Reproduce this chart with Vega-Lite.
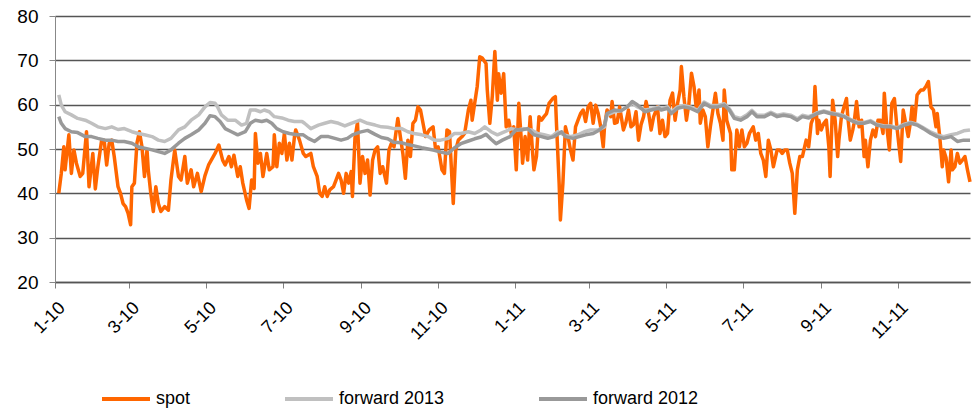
{
"$schema": "https://vega.github.io/schema/vega-lite/v6.json",
"width": 915, "height": 266,
"autosize": {"type": "none"},
"padding": {"left": 55, "top": 16, "right": 2, "bottom": 128},
"background": "white",
"config": {"view": {"stroke": null}, "font": "Liberation Sans"},
"datasets": {
"spot": [
{"d":"2010-01-04","v":40},{"d":"2010-01-06","v":44.5},{"d":"2010-01-08","v":50.5},{"d":"2010-01-09","v":45.3},{"d":"2010-01-12","v":53.2},{"d":"2010-01-14","v":44.5},{"d":"2010-01-16","v":49.8},{"d":"2010-01-18","v":46.8},{"d":"2010-01-21","v":43.8},{"d":"2010-01-23","v":44.5},{"d":"2010-01-26","v":53.9},{"d":"2010-01-28","v":41.5},{"d":"2010-01-31","v":49},
{"d":"2010-02-02","v":41},{"d":"2010-02-04","v":46},{"d":"2010-02-07","v":52},{"d":"2010-02-09","v":52},{"d":"2010-02-11","v":46.4},{"d":"2010-02-13","v":51.3},{"d":"2010-02-15","v":52},{"d":"2010-02-17","v":48.3},{"d":"2010-02-20","v":41.5},{"d":"2010-02-22","v":40},{"d":"2010-02-24","v":37.7},{"d":"2010-02-26","v":37},{"d":"2010-02-28","v":35.5},
{"d":"2010-03-02","v":32.9},{"d":"2010-03-03","v":41.5},{"d":"2010-03-05","v":42.3},{"d":"2010-03-07","v":51.3},{"d":"2010-03-09","v":53.9},{"d":"2010-03-11","v":50.5},{"d":"2010-03-13","v":43.8},{"d":"2010-03-15","v":49.8},{"d":"2010-03-16","v":45.3},{"d":"2010-03-18","v":40},{"d":"2010-03-20","v":35.9},{"d":"2010-03-22","v":41.5},{"d":"2010-03-24","v":37.7},{"d":"2010-03-26","v":35.9},{"d":"2010-03-29","v":37},
{"d":"2010-04-01","v":36.2},{"d":"2010-04-03","v":43},{"d":"2010-04-06","v":49.8},{"d":"2010-04-09","v":43.8},{"d":"2010-04-11","v":43},{"d":"2010-04-14","v":48.3},{"d":"2010-04-16","v":42.3},{"d":"2010-04-19","v":45.3},{"d":"2010-04-21","v":41.5},{"d":"2010-04-24","v":44.5},{"d":"2010-04-27","v":40.4},{"d":"2010-04-30","v":44},
{"d":"2010-05-03","v":46.5},{"d":"2010-05-05","v":47.5},{"d":"2010-05-08","v":49},{"d":"2010-05-11","v":50.9},{"d":"2010-05-14","v":47.5},{"d":"2010-05-16","v":46.4},{"d":"2010-05-19","v":48.3},{"d":"2010-05-21","v":46},{"d":"2010-05-23","v":48.6},{"d":"2010-05-26","v":43.8},{"d":"2010-05-28","v":46},{"d":"2010-05-30","v":42.3},
{"d":"2010-06-02","v":38.5},{"d":"2010-06-04","v":36.6},{"d":"2010-06-06","v":43},{"d":"2010-06-08","v":41.1},{"d":"2010-06-09","v":53.5},{"d":"2010-06-11","v":46.8},{"d":"2010-06-13","v":49},{"d":"2010-06-15","v":43.8},{"d":"2010-06-18","v":49},{"d":"2010-06-20","v":45.3},{"d":"2010-06-23","v":46},{"d":"2010-06-24","v":53.2},{"d":"2010-06-26","v":46},{"d":"2010-06-28","v":51.3},{"d":"2010-06-30","v":49},
{"d":"2010-07-02","v":53.5},{"d":"2010-07-04","v":47.5},{"d":"2010-07-06","v":51.3},{"d":"2010-07-08","v":47.5},{"d":"2010-07-10","v":52.8},{"d":"2010-07-11","v":54.3},{"d":"2010-07-14","v":52},{"d":"2010-07-17","v":49},{"d":"2010-07-19","v":48.3},{"d":"2010-07-23","v":49},{"d":"2010-07-25","v":46},{"d":"2010-07-28","v":43.8},{"d":"2010-07-30","v":40},
{"d":"2010-08-01","v":39.3},{"d":"2010-08-03","v":41.5},{"d":"2010-08-05","v":39.3},{"d":"2010-08-07","v":40.8},{"d":"2010-08-10","v":41.5},{"d":"2010-08-12","v":43},{"d":"2010-08-14","v":44.5},{"d":"2010-08-16","v":43},{"d":"2010-08-18","v":40},{"d":"2010-08-20","v":44.5},{"d":"2010-08-22","v":42.3},{"d":"2010-08-24","v":44.9},{"d":"2010-08-25","v":39.3},{"d":"2010-08-27","v":52.4},{"d":"2010-08-29","v":56},{"d":"2010-08-31","v":42.3},
{"d":"2010-09-02","v":48.3},{"d":"2010-09-04","v":44.5},{"d":"2010-09-06","v":47.5},{"d":"2010-09-08","v":39.6},{"d":"2010-09-10","v":47.5},{"d":"2010-09-12","v":49.8},{"d":"2010-09-14","v":50.5},{"d":"2010-09-16","v":44.5},{"d":"2010-09-18","v":46},{"d":"2010-09-21","v":42.3},{"d":"2010-09-23","v":49.8},{"d":"2010-09-25","v":51.3},{"d":"2010-09-27","v":50.5},{"d":"2010-09-30","v":56.9},
{"d":"2010-10-02","v":52.8},{"d":"2010-10-04","v":49},{"d":"2010-10-06","v":43.4},{"d":"2010-10-08","v":52},{"d":"2010-10-10","v":48.3},{"d":"2010-10-12","v":55.8},{"d":"2010-10-14","v":56.5},{"d":"2010-10-16","v":59.5},{"d":"2010-10-18","v":58.8},{"d":"2010-10-20","v":55.8},{"d":"2010-10-22","v":52.8},{"d":"2010-10-25","v":54.3},{"d":"2010-10-28","v":55},{"d":"2010-10-30","v":49.8},
{"d":"2010-11-01","v":50.5},{"d":"2010-11-04","v":45.3},{"d":"2010-11-06","v":44.5},{"d":"2010-11-08","v":54.3},{"d":"2010-11-10","v":53.9},{"d":"2010-11-12","v":43},{"d":"2010-11-13","v":37.7},{"d":"2010-11-15","v":49.8},{"d":"2010-11-17","v":52},{"d":"2010-11-20","v":52.8},{"d":"2010-11-22","v":53.5},{"d":"2010-11-25","v":58.8},{"d":"2010-11-27","v":61},{"d":"2010-11-28","v":56.5},{"d":"2010-11-30","v":60.3},
{"d":"2010-12-02","v":64.1},{"d":"2010-12-04","v":70.8},{"d":"2010-12-06","v":70.5},{"d":"2010-12-09","v":69.3},{"d":"2010-12-10","v":63.3},{"d":"2010-12-12","v":55.8},{"d":"2010-12-14","v":62},{"d":"2010-12-16","v":72},{"d":"2010-12-18","v":61},{"d":"2010-12-19","v":67},{"d":"2010-12-21","v":62.6},{"d":"2010-12-23","v":67},{"d":"2010-12-25","v":55},{"d":"2010-12-27","v":56.5},{"d":"2010-12-29","v":53.5},{"d":"2010-12-31","v":55},
{"d":"2011-01-02","v":45.3},{"d":"2011-01-04","v":60.3},{"d":"2011-01-06","v":52},{"d":"2011-01-07","v":46.8},{"d":"2011-01-09","v":52.8},{"d":"2011-01-11","v":47.5},{"d":"2011-01-13","v":57.3},{"d":"2011-01-15","v":49},{"d":"2011-01-16","v":45.3},{"d":"2011-01-18","v":48.3},{"d":"2011-01-20","v":57.3},{"d":"2011-01-22","v":56.5},{"d":"2011-01-24","v":57.3},{"d":"2011-01-26","v":58},{"d":"2011-01-28","v":60.3},{"d":"2011-01-31","v":61.4},
{"d":"2011-02-02","v":61.8},{"d":"2011-02-03","v":55},{"d":"2011-02-05","v":42.3},{"d":"2011-02-06","v":34},{"d":"2011-02-08","v":42.3},{"d":"2011-02-10","v":55},{"d":"2011-02-12","v":52.8},{"d":"2011-02-14","v":49.8},{"d":"2011-02-16","v":47.5},{"d":"2011-02-18","v":55},{"d":"2011-02-20","v":56.5},{"d":"2011-02-22","v":58},{"d":"2011-02-24","v":58.8},{"d":"2011-02-26","v":56.2},{"d":"2011-02-28","v":59.5},
{"d":"2011-03-02","v":60.3},{"d":"2011-03-04","v":55.8},{"d":"2011-03-06","v":59.9},{"d":"2011-03-08","v":58},{"d":"2011-03-10","v":55},{"d":"2011-03-12","v":50.5},{"d":"2011-03-13","v":55},{"d":"2011-03-15","v":58.8},{"d":"2011-03-18","v":57.3},{"d":"2011-03-19","v":60.7},{"d":"2011-03-21","v":55.8},{"d":"2011-03-23","v":56},{"d":"2011-03-25","v":59.5},{"d":"2011-03-28","v":54.3},{"d":"2011-03-30","v":56},
{"d":"2011-04-01","v":58.8},{"d":"2011-04-03","v":55},{"d":"2011-04-05","v":55.5},{"d":"2011-04-07","v":58.4},{"d":"2011-04-09","v":52},{"d":"2011-04-11","v":55.5},{"d":"2011-04-13","v":57.3},{"d":"2011-04-15","v":60.7},{"d":"2011-04-17","v":58},{"d":"2011-04-19","v":54.3},{"d":"2011-04-21","v":57.3},{"d":"2011-04-24","v":59.5},{"d":"2011-04-26","v":53.5},{"d":"2011-04-28","v":56.5},{"d":"2011-04-30","v":52.8},
{"d":"2011-05-02","v":53.5},{"d":"2011-05-04","v":61},{"d":"2011-05-06","v":62.6},{"d":"2011-05-08","v":56.5},{"d":"2011-05-10","v":60.3},{"d":"2011-05-12","v":63.3},{"d":"2011-05-13","v":68.6},{"d":"2011-05-15","v":61.8},{"d":"2011-05-17","v":56.5},{"d":"2011-05-19","v":60.3},{"d":"2011-05-21","v":67.1},{"d":"2011-05-23","v":64.1},{"d":"2011-05-25","v":58.8},{"d":"2011-05-27","v":63.3},{"d":"2011-05-28","v":55.8},{"d":"2011-05-30","v":58.8},
{"d":"2011-06-01","v":57.3},{"d":"2011-06-03","v":50.5},{"d":"2011-06-05","v":55},{"d":"2011-06-07","v":58.8},{"d":"2011-06-09","v":62.6},{"d":"2011-06-11","v":58},{"d":"2011-06-13","v":55.8},{"d":"2011-06-15","v":52},{"d":"2011-06-16","v":63.3},{"d":"2011-06-18","v":56.5},{"d":"2011-06-21","v":53.5},{"d":"2011-06-22","v":45.3},{"d":"2011-06-24","v":45.3},{"d":"2011-06-26","v":54.3},{"d":"2011-06-28","v":50.5},{"d":"2011-06-30","v":54.3},
{"d":"2011-07-02","v":50.5},{"d":"2011-07-04","v":51.3},{"d":"2011-07-06","v":53.5},{"d":"2011-07-09","v":55},{"d":"2011-07-11","v":52},{"d":"2011-07-13","v":53.5},{"d":"2011-07-15","v":49},{"d":"2011-07-17","v":47.5},{"d":"2011-07-19","v":43.8},{"d":"2011-07-21","v":52},{"d":"2011-07-23","v":49.8},{"d":"2011-07-25","v":46},{"d":"2011-07-28","v":49.8},{"d":"2011-07-30","v":49.8},
{"d":"2011-08-01","v":49},{"d":"2011-08-03","v":49.8},{"d":"2011-08-05","v":49.8},{"d":"2011-08-07","v":46.8},{"d":"2011-08-09","v":44.5},{"d":"2011-08-11","v":35.5},{"d":"2011-08-13","v":45.3},{"d":"2011-08-15","v":48.3},{"d":"2011-08-17","v":48.3},{"d":"2011-08-20","v":52},{"d":"2011-08-22","v":50.5},{"d":"2011-08-24","v":55.8},{"d":"2011-08-26","v":57.3},{"d":"2011-08-27","v":64.1},{"d":"2011-08-29","v":53.5},{"d":"2011-08-30","v":56.5},
{"d":"2011-09-01","v":54.3},{"d":"2011-09-03","v":55.8},{"d":"2011-09-05","v":56.5},{"d":"2011-09-07","v":50.5},{"d":"2011-09-08","v":43.8},{"d":"2011-09-10","v":61},{"d":"2011-09-12","v":56.5},{"d":"2011-09-14","v":48.3},{"d":"2011-09-15","v":52},{"d":"2011-09-17","v":57.3},{"d":"2011-09-19","v":59.5},{"d":"2011-09-21","v":61.4},{"d":"2011-09-22","v":57.3},{"d":"2011-09-24","v":52},{"d":"2011-09-26","v":54.3},{"d":"2011-09-27","v":55.8},{"d":"2011-09-29","v":60.7},
{"d":"2011-10-01","v":55},{"d":"2011-10-03","v":56.5},{"d":"2011-10-05","v":48.3},{"d":"2011-10-06","v":52},{"d":"2011-10-08","v":46},{"d":"2011-10-10","v":52},{"d":"2011-10-12","v":54.3},{"d":"2011-10-14","v":52.8},{"d":"2011-10-16","v":56.5},{"d":"2011-10-18","v":56.5},{"d":"2011-10-20","v":53.5},{"d":"2011-10-21","v":62.6},{"d":"2011-10-23","v":55},{"d":"2011-10-25","v":49.8},{"d":"2011-10-27","v":60.3},{"d":"2011-10-29","v":61.4},{"d":"2011-10-31","v":55},
{"d":"2011-11-03","v":47.2},{"d":"2011-11-05","v":58.8},{"d":"2011-11-07","v":55.8},{"d":"2011-11-09","v":52.8},{"d":"2011-11-11","v":56.5},{"d":"2011-11-12","v":59.5},{"d":"2011-11-14","v":56},{"d":"2011-11-16","v":62.2},{"d":"2011-11-17","v":62.6},{"d":"2011-11-19","v":63.3},{"d":"2011-11-21","v":63.3},{"d":"2011-11-23","v":64.1},{"d":"2011-11-25","v":65.2},{"d":"2011-11-27","v":59.5},{"d":"2011-11-29","v":58.8},
{"d":"2011-12-01","v":55},{"d":"2011-12-02","v":58},{"d":"2011-12-04","v":52.8},{"d":"2011-12-06","v":46},{"d":"2011-12-07","v":49.8},{"d":"2011-12-09","v":48},{"d":"2011-12-11","v":42.6},{"d":"2011-12-13","v":49.8},{"d":"2011-12-14","v":45.3},{"d":"2011-12-16","v":46},{"d":"2011-12-18","v":49},{"d":"2011-12-20","v":46.8},{"d":"2011-12-22","v":47.5},{"d":"2011-12-24","v":48.3},{"d":"2011-12-26","v":45.3},{"d":"2011-12-28","v":42.6}
],
"f13": [
{"d":"2010-01-04","v":62.2},{"d":"2010-01-06","v":59.9},{"d":"2010-01-09","v":58.4},{"d":"2010-01-14","v":57.7},{"d":"2010-01-19","v":56.9},{"d":"2010-01-25","v":56.5},{"d":"2010-01-30","v":55.8},{"d":"2010-02-04","v":55},{"d":"2010-02-10","v":54.6},{"d":"2010-02-15","v":55},{"d":"2010-02-20","v":54.4},{"d":"2010-02-25","v":54.6},{"d":"2010-03-03","v":53.9},{"d":"2010-03-08","v":53.5},{"d":"2010-03-13","v":53.2},{"d":"2010-03-19","v":52.8},{"d":"2010-03-24","v":52},{"d":"2010-03-29","v":51.7},{"d":"2010-04-03","v":52.4},{"d":"2010-04-09","v":54.3},{"d":"2010-04-14","v":55},{"d":"2010-04-19","v":56.5},{"d":"2010-04-25","v":57.7},{"d":"2010-04-30","v":59.5},
{"d":"2010-05-04","v":60.5},{"d":"2010-05-08","v":60.3},{"d":"2010-05-10","v":59.5},{"d":"2010-05-13","v":57.7},{"d":"2010-05-18","v":56.5},{"d":"2010-05-24","v":56.5},{"d":"2010-05-29","v":55.4},{"d":"2010-06-02","v":55.8},{"d":"2010-06-05","v":58.8},{"d":"2010-06-09","v":58.8},{"d":"2010-06-13","v":58.4},{"d":"2010-06-16","v":58.8},{"d":"2010-06-20","v":58.4},{"d":"2010-06-24","v":57.3},{"d":"2010-06-30","v":57},{"d":"2010-07-05","v":56.5},{"d":"2010-07-10","v":56.2},{"d":"2010-07-16","v":56.2},{"d":"2010-07-18","v":55.8},{"d":"2010-07-23","v":54.6},{"d":"2010-07-29","v":55.4},{"d":"2010-08-03","v":55.8},{"d":"2010-08-08","v":56.2},{"d":"2010-08-14","v":55.8},{"d":"2010-08-19","v":55.2},{"d":"2010-08-24","v":55.8},{"d":"2010-08-31","v":56.5},
{"d":"2010-09-06","v":55.8},{"d":"2010-09-12","v":55.4},{"d":"2010-09-17","v":55},{"d":"2010-09-22","v":54.9},{"d":"2010-09-27","v":54.6},{"d":"2010-10-03","v":54.6},{"d":"2010-10-08","v":53.9},{"d":"2010-10-13","v":53.5},{"d":"2010-10-19","v":53.2},{"d":"2010-10-24","v":52.8},{"d":"2010-10-29","v":52},{"d":"2010-11-03","v":52},{"d":"2010-11-09","v":52.4},{"d":"2010-11-14","v":53.5},{"d":"2010-11-19","v":53.5},{"d":"2010-11-25","v":53.9},{"d":"2010-11-30","v":53.5},{"d":"2010-12-05","v":54.3},{"d":"2010-12-08","v":55},{"d":"2010-12-13","v":53.9},{"d":"2010-12-18","v":53.2},{"d":"2010-12-24","v":53.9},{"d":"2010-12-29","v":54.6},
{"d":"2011-01-03","v":54.3},{"d":"2011-01-08","v":54.6},{"d":"2011-01-14","v":54.3},{"d":"2011-01-19","v":53.5},{"d":"2011-01-24","v":53.2},{"d":"2011-01-30","v":52.8},{"d":"2011-02-04","v":53.9},{"d":"2011-02-09","v":53.2},{"d":"2011-02-14","v":52.8},{"d":"2011-02-20","v":53.2},{"d":"2011-02-25","v":53.9},{"d":"2011-03-02","v":54.3},{"d":"2011-03-08","v":54.3},{"d":"2011-03-13","v":55},{"d":"2011-03-15","v":57.7},{"d":"2011-03-21","v":58.4},{"d":"2011-03-26","v":58.6},{"d":"2011-03-31","v":59.5},{"d":"2011-04-04","v":60.3},{"d":"2011-04-08","v":59.5},{"d":"2011-04-14","v":58.8},{"d":"2011-04-19","v":59},{"d":"2011-04-25","v":59.5},
{"d":"2011-04-27","v":59.1},{"d":"2011-05-02","v":59.5},{"d":"2011-05-05","v":58.3},{"d":"2011-05-10","v":59.5},{"d":"2011-05-15","v":59.8},{"d":"2011-05-20","v":59.5},{"d":"2011-05-26","v":58.7},{"d":"2011-05-31","v":60.6},{"d":"2011-06-05","v":59.8},{"d":"2011-06-11","v":59.8},{"d":"2011-06-16","v":60.2},{"d":"2011-06-20","v":59.1},{"d":"2011-06-24","v":57.3},{"d":"2011-06-29","v":56.9},{"d":"2011-07-04","v":57.7},{"d":"2011-07-08","v":58.7},{"d":"2011-07-12","v":57.6},{"d":"2011-07-18","v":57.6},{"d":"2011-07-23","v":58.3},{"d":"2011-07-28","v":57.6},{"d":"2011-08-02","v":57.9},{"d":"2011-08-08","v":57.6},{"d":"2011-08-13","v":56.8},{"d":"2011-08-17","v":57.6},{"d":"2011-08-22","v":57.3},
{"d":"2011-08-24","v":57.5},{"d":"2011-08-29","v":58.2},{"d":"2011-09-03","v":58.6},{"d":"2011-09-08","v":58.2},{"d":"2011-09-14","v":57.9},{"d":"2011-09-19","v":57.5},{"d":"2011-09-24","v":56.7},{"d":"2011-09-30","v":56},{"d":"2011-10-05","v":56},{"d":"2011-10-10","v":56.4},{"d":"2011-10-15","v":55.6},{"d":"2011-10-21","v":55.2},{"d":"2011-10-26","v":55.2},{"d":"2011-10-31","v":54.8},{"d":"2011-11-06","v":55.6},{"d":"2011-11-11","v":56},{"d":"2011-11-16","v":55.6},{"d":"2011-11-21","v":54.8},{"d":"2011-11-27","v":53.8},{"d":"2011-12-02","v":53.2},{"d":"2011-12-07","v":52.8},{"d":"2011-12-13","v":53.2},{"d":"2011-12-18","v":53.5},{"d":"2011-12-23","v":54.1},{"d":"2011-12-28","v":54.3}
],
"f12": [
{"d":"2010-01-04","v":57.3},{"d":"2010-01-06","v":55.8},{"d":"2010-01-09","v":54.6},{"d":"2010-01-14","v":53.9},{"d":"2010-01-19","v":53.7},{"d":"2010-01-25","v":52.8},{"d":"2010-01-30","v":52.8},{"d":"2010-02-04","v":52.4},{"d":"2010-02-10","v":52},{"d":"2010-02-15","v":52},{"d":"2010-02-20","v":51.7},{"d":"2010-02-25","v":51.7},{"d":"2010-03-03","v":51.3},{"d":"2010-03-08","v":50.5},{"d":"2010-03-13","v":50.2},{"d":"2010-03-19","v":49.8},{"d":"2010-03-24","v":49.4},{"d":"2010-03-29","v":49},{"d":"2010-04-03","v":49.8},{"d":"2010-04-09","v":51.3},{"d":"2010-04-14","v":52.4},{"d":"2010-04-19","v":53.2},{"d":"2010-04-25","v":54.3},{"d":"2010-04-30","v":55.8},
{"d":"2010-05-04","v":57.5},{"d":"2010-05-08","v":57.3},{"d":"2010-05-12","v":56.2},{"d":"2010-05-16","v":54.6},{"d":"2010-05-21","v":53.9},{"d":"2010-05-26","v":53.2},{"d":"2010-06-01","v":53.9},{"d":"2010-06-05","v":55.8},{"d":"2010-06-09","v":56.5},{"d":"2010-06-14","v":56.2},{"d":"2010-06-18","v":56.5},{"d":"2010-06-22","v":55.8},{"d":"2010-06-26","v":54.6},{"d":"2010-07-01","v":53.9},{"d":"2010-07-06","v":53.5},{"d":"2010-07-12","v":53.2},{"d":"2010-07-17","v":53.2},{"d":"2010-07-21","v":52.4},{"d":"2010-07-26","v":51.7},{"d":"2010-07-31","v":52.8},{"d":"2010-08-06","v":52.8},{"d":"2010-08-11","v":52.4},{"d":"2010-08-16","v":52},{"d":"2010-08-21","v":52.4},{"d":"2010-08-25","v":53.2},{"d":"2010-08-31","v":53.8},
{"d":"2010-09-06","v":54.2},{"d":"2010-09-12","v":53.3},{"d":"2010-09-17","v":52.6},{"d":"2010-09-22","v":52.3},{"d":"2010-09-27","v":51.5},{"d":"2010-10-03","v":51.4},{"d":"2010-10-08","v":51},{"d":"2010-10-13","v":50.7},{"d":"2010-10-19","v":50.3},{"d":"2010-10-24","v":50},{"d":"2010-10-29","v":49.7},{"d":"2010-11-03","v":49.3},{"d":"2010-11-09","v":49},{"d":"2010-11-14","v":50.3},{"d":"2010-11-19","v":51.2},{"d":"2010-11-25","v":51.8},{"d":"2010-11-30","v":52.3},{"d":"2010-12-05","v":52.7},{"d":"2010-12-09","v":53.3},{"d":"2010-12-13","v":52.2},{"d":"2010-12-17","v":51.2},{"d":"2010-12-22","v":52},{"d":"2010-12-28","v":52.8},
{"d":"2011-01-02","v":54.4},{"d":"2011-01-06","v":54.3},{"d":"2011-01-11","v":54.6},{"d":"2011-01-16","v":53.2},{"d":"2011-01-22","v":52.8},{"d":"2011-01-27","v":52.4},{"d":"2011-02-01","v":52.8},{"d":"2011-02-07","v":53.9},{"d":"2011-02-10","v":52.8},{"d":"2011-02-16","v":52.4},{"d":"2011-02-21","v":52.8},{"d":"2011-02-26","v":53.2},{"d":"2011-03-04","v":53.5},{"d":"2011-03-09","v":54.3},{"d":"2011-03-13","v":55.4},{"d":"2011-03-15","v":58},{"d":"2011-03-21","v":58.8},{"d":"2011-03-26","v":58.6},{"d":"2011-03-31","v":59.5},{"d":"2011-04-04","v":60.7},{"d":"2011-04-08","v":60},{"d":"2011-04-14","v":58.4},{"d":"2011-04-19","v":58.8},{"d":"2011-04-25","v":59.2},
{"d":"2011-04-27","v":58.8},{"d":"2011-05-02","v":59.2},{"d":"2011-05-05","v":58},{"d":"2011-05-10","v":59.2},{"d":"2011-05-15","v":59.5},{"d":"2011-05-20","v":59.2},{"d":"2011-05-26","v":58.4},{"d":"2011-05-31","v":60.3},{"d":"2011-06-05","v":59.5},{"d":"2011-06-11","v":59.5},{"d":"2011-06-16","v":59.9},{"d":"2011-06-20","v":58.8},{"d":"2011-06-24","v":56.9},{"d":"2011-06-29","v":56.5},{"d":"2011-07-04","v":57.3},{"d":"2011-07-08","v":58.4},{"d":"2011-07-12","v":57.3},{"d":"2011-07-18","v":57.3},{"d":"2011-07-23","v":58},{"d":"2011-07-28","v":57.3},{"d":"2011-08-02","v":57.6},{"d":"2011-08-08","v":57.3},{"d":"2011-08-13","v":56.5},{"d":"2011-08-17","v":57.3},{"d":"2011-08-22","v":57},
{"d":"2011-08-24","v":57.3},{"d":"2011-08-29","v":58},{"d":"2011-09-03","v":58.4},{"d":"2011-09-08","v":58},{"d":"2011-09-14","v":57.7},{"d":"2011-09-19","v":57.3},{"d":"2011-09-24","v":56.5},{"d":"2011-09-30","v":55.8},{"d":"2011-10-05","v":55.8},{"d":"2011-10-10","v":56.2},{"d":"2011-10-15","v":55.4},{"d":"2011-10-21","v":55},{"d":"2011-10-26","v":55},{"d":"2011-10-31","v":54.6},{"d":"2011-11-06","v":55.4},{"d":"2011-11-11","v":55.8},{"d":"2011-11-16","v":55.4},{"d":"2011-11-21","v":54.6},{"d":"2011-11-27","v":53.5},{"d":"2011-12-02","v":52.8},{"d":"2011-12-07","v":52.4},{"d":"2011-12-13","v":52.8},{"d":"2011-12-18","v":51.7},{"d":"2011-12-23","v":52},{"d":"2011-12-28","v":52}
]
},
"encoding": {
"x": {"field": "d", "type": "temporal",
 "scale": {"type": "utc", "domain": [{"year": 2010, "month": 1, "date": 1, "utc": true}, {"year": 2011, "month": 12, "date": 28, "utc": true}]},
 "axis": {"title": null, "grid": false, "tickCount": {"interval": "month", "step": 2}, "format": "%-m-%y",
  "labelAngle": -45, "labelAlign": "right", "labelBaseline": "middle", "labelFontSize": 18, "labelColor": "#000",
  "labelPadding": 17, "labelOffset": 7, "tickColor": "#808080", "tickSize": 6, "domainColor": "#555", "domainWidth": 1.5, "labelOverlap": false}},
"y": {"field": "v", "type": "quantitative",
 "scale": {"domain": [20, 80], "nice": false, "zero": false},
 "axis": {"title": null, "values": [20, 30, 40, 50, 60, 70, 80], "grid": true, "gridColor": "#555", "gridWidth": 1.3,
  "domainColor": "#888", "tickColor": "#888", "tickSize": 6, "labelFontSize": 19, "labelPadding": 11, "labelColor": "#000"}},
"color": {"type": "nominal",
 "scale": {"domain": ["spot", "forward 2013", "forward 2012"], "range": ["#ff6600", "#c0c0c0", "#999999"]},
 "legend": {"orient": "none", "legendX": 45, "legendY": 357, "direction": "horizontal", "title": null,
  "symbolType": "stroke", "symbolSize": 2304, "symbolStrokeWidth": 4, "labelFontSize": 18, "labelColor": "#000",
  "labelOffset": 4, "columnPadding": 86}}
},
"layer": [
{"data": {"name": "spot"}, "mark": {"type": "line", "strokeWidth": 3.5, "strokeJoin": "round"}, "encoding": {"color": {"datum": "spot"}}},
{"data": {"name": "f13"}, "mark": {"type": "line", "strokeWidth": 3.5, "strokeJoin": "round"}, "encoding": {"color": {"datum": "forward 2013"}}},
{"data": {"name": "f12"}, "mark": {"type": "line", "strokeWidth": 3.5, "strokeJoin": "round"}, "encoding": {"color": {"datum": "forward 2012"}}}
]
}
